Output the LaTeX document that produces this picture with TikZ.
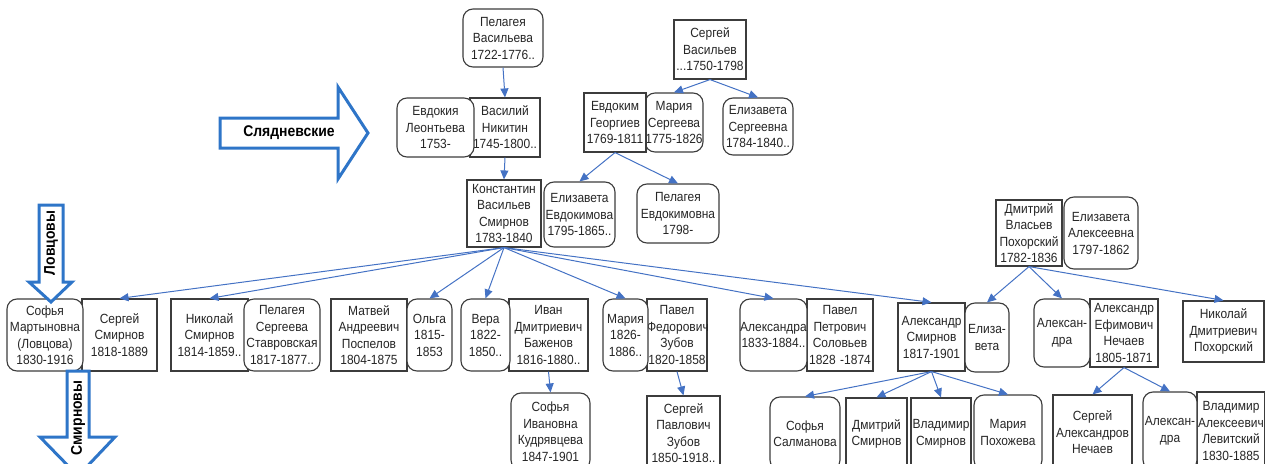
\documentclass[tikz,border=0pt]{standalone}
\usepackage{fontspec}
\setmainfont{Liberation Sans}[FakeStretch=0.9]
\usetikzlibrary{arrows.meta}
\definecolor{linkblue}{RGB}{68,114,196}
\definecolor{bigblue}{RGB}{46,117,200}
\definecolor{boxgray}{RGB}{60,60,60}
\newcommand{\boxfont}{\fontsize{13.3}{16.5}\selectfont}
\hyphenpenalty=10000
\exhyphenpenalty=10000

\begin{document}
\begin{tikzpicture}[x=1pt, y=-1pt,
	person/.style={
		rectangle,
		draw=boxgray,
		fill=white,
		line width=1.15pt,
		align=center,
		inner xsep=0pt,
		inner ysep=1pt,
		font=\boxfont,
		text=black!85
	},
	sqbox/.style={person},
	rndbox/.style={person, rounded corners=10pt},
	wh/.style 2 args={text width=#1pt, minimum height=#2pt},
	link/.style={
		-{Triangle[length=9pt, width=8pt]},
		draw=linkblue,
		line width=1pt
	},
	bigarrow/.style={
		draw=bigblue,
		fill=white,
		line width=3pt
	},
	arrowlabel/.style={
		font=\bfseries\fontsize{15.5}{18}\selectfont,
		text=black
	}
	]
	\clip (0,0) rectangle (1265,463);
	
	% Oldest generation
	\node[rndbox, wh={80}{58}] (pelV) at (503,38) {Пелагея\\Васильева\\1722-1776..};
	\node[sqbox, wh={70}{59}] (vasN) at (505,127.5) {Василий\\Никитин\\1745-1800..};
	\node[rndbox, wh={77}{59}] (evdL) at (435.5,127.5) {Евдокия\\Леонтьева\\1753-};
	\node[sqbox, wh={72}{59}] (serV) at (710,49.5) {Сергей\\Васильев\\...1750-1798};
	\node[rndbox, wh={58}{59}] (marS) at (674,122.5) {Мария\\Сергеева\\1775-1826};
	\node[sqbox, wh={62}{59}] (evdG) at (615,122.5) {Евдоким\\Георгиев\\1769-1811};
	\node[rndbox, wh={70}{57}] (elzS) at (758,126.5) {Елизавета\\Сергеевна\\1784-1840..};
	
	% Konstantin and the Evdokimovny
	\node[sqbox, wh={74}{67}] (kons) at (504,213.5) {Константин\\Васильев\\Смирнов\\1783-1840};
	\node[rndbox, wh={71}{65}] (elzE) at (579.5,214.5) {Елизавета\\Евдокимова\\1795-1865..};
	\node[rndbox, wh={82}{59}] (pelE) at (678,213.5) {Пелагея\\Евдокимовна\\1798-};
	
	% Pokhorsky couple
	\node[sqbox, wh={66}{66}] (dmP) at (1029,233) {Дмитрий\\Власьев\\Похорский\\1782-1836};
	\node[rndbox, wh={74}{72}] (elzA) at (1101,233) {Елизавета\\Алексеевна\\1797-1862};
	
	% Children of Konstantin
	\node[sqbox, wh={75}{72}] (serS) at (119.5,335) {Сергей\\Смирнов\\1818-1889};
	\node[rndbox, wh={76}{72}] (sofM) at (45,335) {Софья\\Мартыновна\\(Ловцова)\\1830-1916};
	\node[sqbox, wh={77}{72}] (nikS) at (209.5,335) {Николай\\Смирнов\\1814-1859..};
	\node[rndbox, wh={76}{72}] (pelS) at (282,335) {Пелагея\\Сергеева\\Ставровская\\1817-1877..};
	\node[sqbox, wh={76}{72}] (matP) at (369,335) {Матвей\\Андреевич\\Поспелов\\1804-1875};
	\node[rndbox, wh={45}{72}] (olg) at (429.5,335) {Ольга\\1815-\\1853};
	\node[sqbox, wh={79}{72}] (ivB) at (548.5,335) {Иван\\Дмитриевич\\Баженов\\1816-1880..};
	\node[rndbox, wh={49}{72}] (ver) at (485.5,335) {Вера\\1822-\\1850..};
	\node[sqbox, wh={60}{72}] (pavZ) at (677,335) {Павел\\Федорович\\Зубов\\1820-1858};
	\node[rndbox, wh={45}{72}] (mar) at (625.5,335) {Мария\\1826-\\1886..};
	\node[sqbox, wh={66}{72}] (pavS) at (840,335) {Павел\\Петрович\\Соловьев\\1828 -1874};
	\node[rndbox, wh={67}{72}] (alx) at (773.5,335) {Александра\\1833-1884..};
	\node[sqbox, wh={67}{68}] (alxS) at (931.5,337) {Александр\\Смирнов\\1817-1901};
	\node[rndbox, wh={44}{69}] (elz) at (987,337.5) {Елиза-\\вета};
	
	% Nechaev and Pokhorsky children
	\node[sqbox, wh={68}{68}] (alN) at (1124,333) {Александр\\Ефимович\\Нечаев\\1805-1871};
	\node[rndbox, wh={56}{68}] (alra) at (1062,333) {Алексан-\\дра};
	\node[sqbox, wh={81}{61}] (nikP) at (1223.5,331.5) {Николай\\Дмитриевич\\Похорский};
	
	% Grandchildren
	\node[rndbox, wh={79}{77}] (sofK) at (550.5,431.5) {Софья\\Ивановна\\Кудрявцева\\1847-1901};
	\node[sqbox, wh={73}{74}] (serPZ) at (683.5,433) {Сергей\\Павлович\\Зубов\\1850-1918..};
	\node[rndbox, wh={70}{73}] (sofSal) at (805,433.5) {Софья\\Салманова};
	\node[sqbox, wh={61}{72}] (dmS) at (876.5,434) {Дмитрий\\Смирнов};
	\node[sqbox, wh={60}{72}] (vlS) at (941,434) {Владимир\\Смирнов};
	\node[rndbox, wh={68}{75}] (marP) at (1008,432.5) {Мария\\Похожева};
	\node[sqbox, wh={79}{75}] (serAN) at (1092.5,432.5) {Сергей\\Александров\\Нечаев};
	\node[sqbox, wh={68}{78}] (vlL) at (1231,431) {Владимир\\Алексеевич\\Левитский\\1830-1885};
	\node[rndbox, wh={54}{78}] (alra2) at (1170,431) {Алексан-\\дра};
	
	% Links
	\draw[link] (pelV.south) -- (vasN.north);
	\draw[link] (serV.south) -- (marS.north);
	\draw[link] (serV.south) -- (elzS.north);
	\draw[link] (vasN.south) -- (kons.north);
	\draw[link] (evdG.south) -- (elzE.north);
	\draw[link] (evdG.south) -- (pelE.north);
	\foreach \c in {serS, nikS, olg, ver, mar, alx, alxS}
		\draw[link] (kons.south) -- (\c.north);
	\draw[link] (ivB.south) -- (sofK.north);
	\draw[link] (pavZ.south) -- (serPZ.north);
	\foreach \c in {sofSal, dmS, vlS, marP}
		\draw[link] (alxS.south) -- (\c.north);
	\foreach \c in {elz, alra, nikP}
		\draw[link] (dmP.south) -- (\c.north);
	\foreach \c in {serAN, alra2}
		\draw[link] (alN.south) -- (\c.north);
	
	% Family name arrows
	\draw[bigarrow] (220,118) -- (338,118) -- (338,87) -- (368,133) -- (338,179) -- (338,148) -- (220,148) -- cycle;
	\node[arrowlabel] (slyad) at (289,133) {Слядневские};
	\draw[bigarrow] (39,205) -- (63,205) -- (63,282) -- (72,282) -- (51,302) -- (29,282) -- (39,282) -- cycle;
	\node[arrowlabel, rotate=90] (lovts) at (51,243) {Ловцовы};
	\draw[bigarrow] (67,371) -- (89,371) -- (89,437) -- (115,437) -- (78,476) -- (40,437) -- (67,437) -- cycle;
	\node[arrowlabel, rotate=90] (smirn) at (78,418) {Смирновы};
	
\end{tikzpicture}
\end{document}
